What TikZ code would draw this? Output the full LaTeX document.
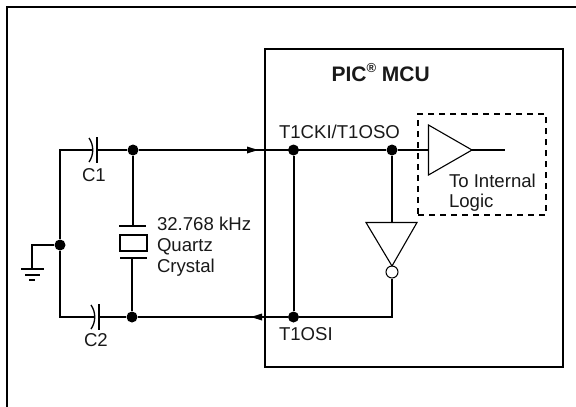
\documentclass[tikz,border=0pt]{standalone}
\usepackage{fontspec}
\setmainfont{Liberation Sans}
\tikzset{
  x=1pt,y=-1pt,
  wire/.style={line width=2pt,line join=miter},
  junction/.style={circle,fill=black,draw=none,inner sep=0pt,minimum size=11pt},
  lbl/.style={inner sep=0pt,outer sep=0pt,anchor=base west,font=\fontsize{18.6}{21}\selectfont,text=black!90},
}
\begin{document}
\begin{tikzpicture}
\useasboundingbox (0,0) rectangle (576,407);
% outer frame (open at right and bottom)
\coordinate (fb) at (6.5,407);
\coordinate (fc) at (6.5,6.5);
\coordinate (fr) at (576,6.5);
\draw[wire] (fb) -- (fc) -- (fr);
% MCU box
\node[draw,line width=2pt,minimum width=298pt,minimum height=318pt,inner sep=0pt,anchor=north west] (mcu) at (264,48) {};
% junctions
\node[junction] (jc1) at (133,150) {};
\node[junction] (jc2) at (132,317) {};
\node[junction] (jg) at (60,245) {};
\node[junction] (ja) at (293.5,150) {};
\node[junction] (jb) at (392,150) {};
\node[junction] (jd) at (293.5,317) {};
% helper points
\coordinate (tl) at (60,150);
\coordinate (bl) at (60,317);
\coordinate (c1l) at (92,150);
\coordinate (c1r) at (97,150);
\coordinate (c2l) at (94,317);
\coordinate (c2r) at (99,317);
% left wires
\draw[wire] (c1l) -- (tl) -- (jg) -- (bl) -- (c2l);
\draw[wire] (c1r) -- (jc1) -- (jb);
\draw[wire] (c2r) -- (jc2) -- (jd);
% capacitors
\coordinate (c1t) at (97,137);
\coordinate (c1b) at (97,163);
\coordinate (c2t) at (99,304);
\coordinate (c2b) at (99,330);
\draw[wire] (c1t) -- (c1b);
\draw[wire] (c2t) -- (c2b);
\draw[line width=1.3pt] (89,138) .. controls (94,145) and (94,155) .. (89,162);
\draw[line width=1.3pt] (91,305) .. controls (96,312) and (96,322) .. (91,329);
% arrowheads
\fill (258,150) -- (247,146.5) -- (247,153.5) -- cycle;
\fill (251,317) -- (262,313.5) -- (262,320.5) -- cycle;
% crystal
\coordinate (xt) at (133,225.5);
\coordinate (xb) at (132,257.5);
\draw[wire] (jc1) -- (xt);
\draw[wire] (xb) -- (jc2);
\draw[wire] (119,225.5) -- (146,225.5);
\draw[wire] (120,257.5) -- (147,257.5);
\node[draw,line width=2pt,minimum width=27pt,minimum height=16pt,inner sep=0pt,anchor=north west] (xtal) at (119,234) {};
% ground
\coordinate (g1) at (32,245);
\coordinate (g2) at (32,269);
\draw[wire] (jg) -- (g1) -- (g2);
\draw[wire] (21,269) -- (44,269);
\draw[wire] (25,274.5) -- (40,274.5);
\draw[wire] (29,280) -- (35,280);
% inner wiring
\draw[wire] (ja) -- (jd);
\coordinate (invt) at (392,222.5);
\coordinate (invc) at (392,317);
\draw[wire] (jb) -- (invt);
\node[circle,draw,line width=1pt,fill=white,minimum size=12pt,inner sep=0pt] (bub) at (392,272) {};
\draw[wire] (bub) -- (invc) -- (jd);
\coordinate (bufl) at (428.5,150);
\coordinate (bufr) at (472,150);
\coordinate (bufo) at (505,150);
\draw[wire] (jb) -- (bufl);
\draw[wire] (bufr) -- (bufo);
\draw[line width=1.1pt,line join=miter] (428.5,125) -- (472,150) -- (428.5,175) -- cycle;
\draw[line width=1.1pt,line join=miter] (366,222.5) -- (417,222.5) -- (392,266) -- cycle;
% dashed box
\node[draw,line width=2pt,dash pattern=on 6pt off 5pt,minimum width=128pt,minimum height=101pt,inner sep=0pt,anchor=north west] (dbox) at (417,113) {};
% labels
\node[lbl,font=\fontsize{21}{24}\selectfont\bfseries] (pic) at (331.5,81.5) {PIC\raisebox{0.42em}{\fontsize{13}{15}\selectfont ®} MCU};
\node[lbl] (t1) at (279,138) {T1CKI/T1OSO};
\node[lbl] (t2) at (279,340) {T1OSI};
\node[lbl] (ti) at (449,187) {To Internal};
\node[lbl] (lo) at (449,207.5) {Logic};
\node[lbl] (f1) at (157,230) {32.768 kHz};
\node[lbl] (f2) at (157,251) {Quartz};
\node[lbl] (f3) at (157,272) {Crystal};
\node[lbl] (c1) at (82,181) {C1};
\node[lbl] (c2) at (84,346) {C2};
\end{tikzpicture}
\end{document}
